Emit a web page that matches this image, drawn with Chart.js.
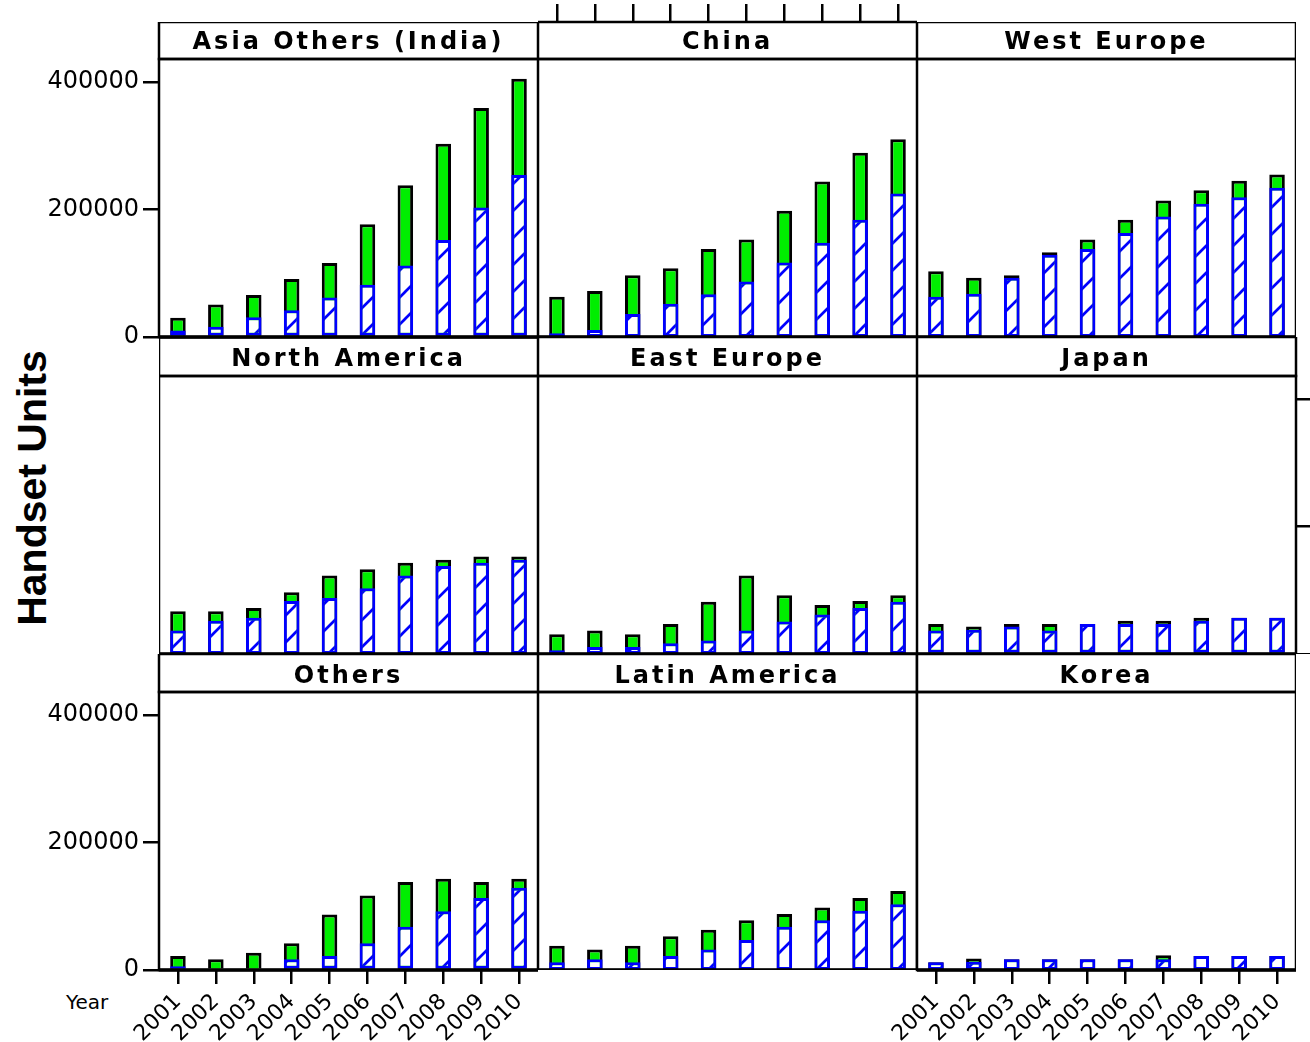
<!DOCTYPE html>
<html>
<head>
<meta charset="utf-8">
<script src="https://cdn.jsdelivr.net/npm/chart.js@4.4.1/dist/chart.umd.min.js"></script>
<style>
  body { margin: 0; background: #fff; width: 1310px; height: 1042px; overflow: hidden; position: relative; }
  canvas { position: absolute; }
  #ytitle { position: absolute; left: 32px; top: 488px; transform: translate(-50%, -50%) rotate(-90deg);
            font: bold 41px "Liberation Sans", Arial, sans-serif; white-space: nowrap; color: #000; }
  #xtitle { position: absolute; left: 66px; top: 990px; font: 20px "DejaVu Sans", sans-serif; color: #000; }
</style>
</head>
<body>
<div id="ytitle">Handset Units</div>
<div id="xtitle">Year</div>
<script>
const years = ["2001", "2002", "2003", "2004", "2005", "2006", "2007", "2008", "2009", "2010"];
const yTicks = [0, 200000, 400000];
const yMax = 436000;

// green bar = total, hatched blue bar = part of it
const asiaTotal = [30000, 51000, 66000, 91000, 116000, 177000, 238000, 303000, 359000, 405000];
const asiaHatched = [10000, 16000, 31000, 42000, 62000, 82000, 112000, 152000, 203000, 254000];
const chinaTotal = [63000, 72000, 97000, 108000, 138000, 153000, 198000, 244000, 289000, 310000];
const chinaHatched = [6000, 11000, 36000, 52000, 67000, 87000, 117000, 148000, 184000, 225000];
const westEuTotal = [103000, 93000, 97000, 133000, 153000, 184000, 214000, 230000, 245000, 255000];
const westEuHatched = [63000, 68000, 93000, 129000, 138000, 163000, 189000, 209000, 219000, 234000];
const northAmTotal = [67000, 67000, 72000, 97000, 123000, 133000, 143000, 148000, 153000, 153000];
const northAmHatched = [37000, 52000, 57000, 83000, 88000, 103000, 123000, 138000, 143000, 148000];
const eastEuTotal = [31000, 37000, 31000, 47000, 82000, 123000, 92000, 77000, 83000, 92000];
const eastEuHatched = [6000, 11000, 11000, 17000, 21000, 37000, 51000, 62000, 72000, 82000];
const japanTotal = [47000, 43000, 47000, 47000, 47000, 52000, 52000, 57000, 57000, 57000];
const japanHatched = [37000, 38000, 43000, 37000, 47000, 47000, 47000, 52000, 57000, 57000];
const othersTotal = [22000, 17000, 27000, 42000, 87000, 117000, 138000, 143000, 138000, 143000];
const othersHatched = [6000, 2000, 2000, 17000, 22000, 42000, 68000, 92000, 113000, 129000];
const latinAmTotal = [38000, 32000, 38000, 53000, 63000, 78000, 88000, 98000, 113000, 124000];
const latinAmHatched = [12000, 17000, 12000, 22000, 32000, 47000, 68000, 78000, 93000, 103000];
const koreaTotal = [12000, 18000, 17000, 17000, 17000, 17000, 23000, 22000, 22000, 22000];
const koreaHatched = [12000, 13000, 17000, 17000, 17000, 17000, 17000, 22000, 22000, 22000];

const panels = [
  { title: "Asia Others (India)", total: asiaTotal, hatched: asiaHatched },
  { title: "China", total: chinaTotal, hatched: chinaHatched },
  { title: "West Europe", total: westEuTotal, hatched: westEuHatched },
  { title: "North America", total: northAmTotal, hatched: northAmHatched },
  { title: "East Europe", total: eastEuTotal, hatched: eastEuHatched },
  { title: "Japan", total: japanTotal, hatched: japanHatched },
  { title: "Others", total: othersTotal, hatched: othersHatched },
  { title: "Latin America", total: latinAmTotal, hatched: latinAmHatched },
  { title: "Korea", total: koreaTotal, hatched: koreaHatched }
];

// layout of the 3x3 trellis
const colLeft = [159, 538, 917];
const panelW = 379;
const plotH = 278;
const rowTop = [22, 337, 654];
const stripH = [37, 39, 38];
const stripPadTop = [7, 9, 9];

// axes alternate around the trellis like lattice does
const axesAt = {
  0: { y: "left" },
  1: { x: "top" },
  5: { y: "right" },
  6: { y: "left", x: "bottom" },
  8: { x: "bottom" }
};

function makeHatch() {
  const c = document.createElement("canvas");
  c.width = c.height = 27;
  const g = c.getContext("2d");
  g.fillStyle = "#fff";
  g.fillRect(0, 0, 27, 27);
  g.strokeStyle = "#0000ff";
  g.lineWidth = 2.7;
  g.beginPath();
  for (const k of [-27, 0, 27]) {
    g.moveTo(-5, 32 + k);
    g.lineTo(32, -5 + k);
  }
  g.stroke();
  return g.createPattern(c, "repeat");
}
const hatch = makeHatch();

const panelFrame = {
  id: "panelFrame",
  beforeDraw(chart) {
    // strip text is letter-spaced in the original
    const t = chart.titleBlock;
    if (t && !t.spaced) {
      const draw = t.draw;
      t.draw = function () {
        this.ctx.save();
        this.ctx.letterSpacing = "3px";
        draw.apply(this, arguments);
        this.ctx.restore();
      };
      t.spaced = true;
    }
  },
  afterDraw(chart) {
    const { ctx, chartArea: a, titleBlock: t } = chart;
    ctx.save();
    ctx.strokeStyle = "#000";
    ctx.lineWidth = 2.5;
    ctx.strokeRect(a.left, t.top, a.right - a.left, t.bottom - t.top);
    ctx.strokeRect(a.left, a.top, a.right - a.left, a.bottom - a.top);
    ctx.lineWidth = 3.5;
    ctx.beginPath();
    ctx.moveTo(a.left, a.bottom);
    ctx.lineTo(a.right, a.bottom);
    ctx.stroke();
    ctx.restore();
  }
};

panels.forEach((p, i) => {
  const row = Math.floor(i / 3), col = i % 3;
  const ax = axesAt[i] || {};
  const pad = {
    l: ax.y === "left" ? 159 : 0,
    r: ax.y === "right" ? 14 : 0,
    t: ax.x === "top" ? 18 : 0,
    b: ax.x === "bottom" ? 72 : 0
  };
  if (ax.x === "bottom" && !pad.l) pad.l = 40;
  // room for the half of the "0" label that hangs below the panel
  if (ax.y === "left" && !pad.b) pad.b = 14;

  const canvas = document.createElement("canvas");
  canvas.width = pad.l + panelW + pad.r;
  canvas.height = pad.t + stripH[row] + plotH + pad.b;
  canvas.style.left = (colLeft[col] - pad.l) + "px";
  canvas.style.top = (rowTop[row] - pad.t) + "px";
  document.body.appendChild(canvas);

  new Chart(canvas, {
    type: "bar",
    data: {
      labels: years,
      datasets: [
        {
          data: p.hatched,
          backgroundColor: hatch,
          borderColor: "#0000ff",
          borderWidth: 3,
          borderSkipped: false,
          grouped: false,
          barPercentage: 0.41,
          categoryPercentage: 1
        },
        {
          data: p.total,
          backgroundColor: "#00ee00",
          borderColor: "#000",
          borderWidth: 3,
          grouped: false,
          barPercentage: 0.41,
          categoryPercentage: 1
        }
      ]
    },
    options: {
      responsive: false,
      animation: false,
      devicePixelRatio: 1,
      layout: {
        padding: {
          left: ax.y === "left" ? 0 : pad.l,
          right: ax.y === "right" ? 0 : pad.r,
          top: ax.x === "top" ? 0 : pad.t,
          bottom: ax.x === "bottom" ? 0 : pad.b
        }
      },
      plugins: {
        legend: { display: false },
        tooltip: { enabled: false },
        title: {
          display: true,
          text: p.title,
          color: "#000",
          fullSize: false,
          weight: -1,
          font: { family: "DejaVu Sans", size: 24, weight: "bold", lineHeight: "28px" },
          padding: { top: stripPadTop[row], bottom: stripH[row] - 28 - stripPadTop[row] }
        }
      },
      scales: {
        x: {
          type: "category",
          display: !!ax.x,
          position: ax.x || "bottom",
          offset: true,
          grid: {
            drawOnChartArea: false,
            offset: false,
            color: "#000",
            lineWidth: 2.5,
            tickLength: ax.x === "top" ? 18 : 14
          },
          border: { display: false },
          ticks: {
            display: ax.x === "bottom",
            color: "#000",
            font: { family: "DejaVu Sans", size: 22 },
            minRotation: 45,
            maxRotation: 45,
            autoSkip: false,
            padding: 5
          },
          afterFit: s => {
            s.height = ax.x === "top" ? 18 : ax.x === "bottom" ? 72 : 0;
            s.paddingLeft = 0;
            s.paddingRight = 0;
          }
        },
        y: {
          min: 0,
          max: yMax,
          display: !!ax.y,
          position: ax.y || "left",
          afterBuildTicks: s => { s.ticks = yTicks.map(v => ({ value: v })); },
          grid: {
            drawOnChartArea: false,
            color: "#000",
            lineWidth: 2.5,
            tickLength: ax.y === "left" ? 16 : 14
          },
          border: { display: false },
          ticks: {
            display: ax.y === "left",
            color: "#000",
            font: { family: "DejaVu Sans", size: 24 },
            padding: 4,
            callback: v => String(v)
          },
          afterFit: s => {
            s.width = ax.y === "left" ? 159 : ax.y === "right" ? 14 : 0;
            s.paddingTop = 0;
            s.paddingBottom = 0;
          }
        }
      }
    },
    plugins: [panelFrame]
  });
});
</script>
</body>
</html>
